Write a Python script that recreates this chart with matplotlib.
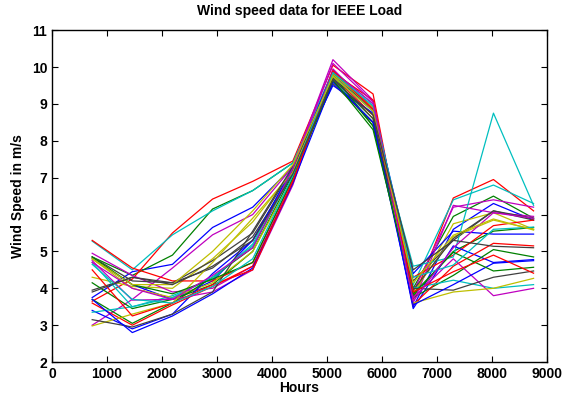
import matplotlib
matplotlib.use("Agg")
from matplotlib import pyplot as plt

# hours at the end of each month
hours = [730, 1460, 2190, 2920, 3650, 4380, 5110, 5840, 6570, 7300, 8030, 8760]

# monthly average wind speed (m/s), one list per curve
speeds = [
    [3.75, 4.45, 4.65, 5.65, 6.2, 7.3, 9.8, 8.8, 3.5, 5.6, 6.3, 5.85],
    [4.85, 4.35, 4.9, 6.15, 6.65, 7.4, 9.7, 8.4, 4.0, 5.95, 6.5, 5.9],
    [3.65, 4.25, 5.5, 6.42, 6.9, 7.45, 10.05, 9.27, 3.7, 6.45, 6.95, 6.1],
    [5.28, 4.5, 5.45, 6.1, 6.65, 7.4, 9.9, 9.0, 4.1, 6.4, 6.8, 6.3],
    [3.0, 3.7, 4.55, 5.45, 6.0, 7.3, 10.2, 9.1, 3.9, 6.2, 6.4, 6.2],
    [4.3, 4.05, 4.0, 4.8, 5.8, 7.2, 9.6, 8.7, 3.8, 5.75, 6.05, 5.6],
    [3.95, 4.3, 4.15, 4.75, 5.5, 7.25, 9.85, 8.8, 4.2, 5.3, 6.1, 5.85],
    [4.8, 4.1, 3.7, 4.2, 5.3, 7.2, 9.9, 8.9, 4.4, 5.55, 5.47, 5.47],
    [4.15, 3.45, 3.7, 4.1, 5.0, 7.1, 9.6, 8.5, 3.8, 5.0, 5.55, 5.65],
    [5.3, 4.55, 4.2, 4.2, 4.7, 6.95, 9.75, 8.7, 4.3, 4.9, 5.7, 5.85],
    [4.7, 3.5, 3.8, 4.25, 5.2, 7.3, 9.65, 8.6, 4.6, 4.85, 8.75, 6.25],
    [4.95, 4.35, 3.9, 4.0, 4.6, 6.9, 9.95, 8.85, 3.6, 6.25, 6.05, 5.95],
    [4.8, 4.0, 3.75, 4.15, 5.0, 7.0, 9.7, 8.6, 3.9, 5.4, 5.85, 5.6],
    [4.85, 4.2, 4.15, 4.55, 5.4, 7.1, 9.55, 8.5, 3.95, 5.35, 6.1, 5.9],
    [3.4, 2.9, 3.3, 4.4, 5.3, 7.25, 9.5, 8.75, 3.45, 5.15, 4.7, 4.78],
    [3.7, 3.05, 3.6, 4.3, 5.1, 7.2, 9.8, 8.4, 3.75, 4.35, 5.05, 4.85],
    [3.6, 3.0, 3.55, 4.05, 4.6, 6.85, 9.85, 9.1, 3.55, 4.6, 5.22, 5.15],
    [3.35, 3.5, 3.75, 4.3, 5.15, 7.15, 9.75, 8.8, 4.0, 4.22, 4.0, 4.1],
    [4.75, 3.68, 3.7, 3.9, 4.5, 6.8, 9.9, 9.0, 3.75, 4.8, 3.8, 4.0],
    [2.98, 3.3, 3.6, 4.7, 5.9, 7.15, 9.8, 8.9, 3.6, 3.9, 4.0, 4.27],
    [3.15, 2.95, 3.3, 3.9, 5.55, 7.3, 9.7, 8.6, 4.0, 3.95, 4.3, 4.47],
    [3.7, 2.8, 3.25, 3.85, 4.55, 6.85, 9.6, 8.5, 3.55, 4.1, 4.68, 4.75],
    [4.85, 4.1, 3.85, 4.25, 4.7, 7.0, 9.65, 8.3, 3.85, 4.98, 4.47, 4.57],
    [4.5, 3.25, 3.6, 4.1, 4.5, 6.9, 9.9, 8.85, 3.9, 4.45, 4.9, 4.41],
    [4.65, 3.7, 3.6, 4.05, 4.8, 7.05, 9.85, 8.95, 4.3, 4.63, 5.6, 5.66],
    [4.7, 4.0, 3.7, 4.35, 5.1, 7.25, 10.1, 9.05, 3.65, 5.1, 6.05, 5.9],
    [4.8, 4.1, 4.1, 5.0, 6.1, 7.35, 9.75, 8.8, 4.15, 5.44, 5.88, 5.58],
    [3.9, 4.3, 4.1, 4.6, 5.3, 7.1, 9.65, 8.7, 4.5, 5.3, 5.14, 5.1],
]

# old matlab colour order: b g r c m y k
colors = [(0, 0, 1), (0, 0.5, 0), (1, 0, 0), (0, 0.75, 0.75),
          (0.75, 0, 0.75), (0.75, 0.75, 0), (0.25, 0.25, 0.25)]

plt.rcParams['font.family'] = ['Liberation Sans', 'DejaVu Sans']
plt.rcParams['font.weight'] = 'bold'

fig = plt.figure(figsize=(5.66, 3.97), dpi=100)
ax = fig.add_axes([0.092, 0.088, 0.874, 0.836])

for i, row in enumerate(speeds):
    ax.plot(hours, row, color=colors[i % len(colors)], linewidth=0.9)

ax.set_xlim(0, 9000)
ax.set_ylim(2, 11)
ax.set_xticks(range(0, 9001, 1000))
ax.set_yticks(range(2, 12))
ax.tick_params(direction='in', top=True, right=True, labelsize=10, length=4, width=0.8)
for s in ax.spines.values():
    s.set_linewidth(1.0)

ax.set_title("Wind speed data for IEEE Load", fontsize=10, fontweight='bold', pad=11)
ax.set_xlabel("Hours", fontsize=10, fontweight='bold', labelpad=0)
ax.set_ylabel("Wind Speed in m/s", fontsize=10, fontweight='bold', labelpad=5)

plt.savefig("out.png", dpi=100)
